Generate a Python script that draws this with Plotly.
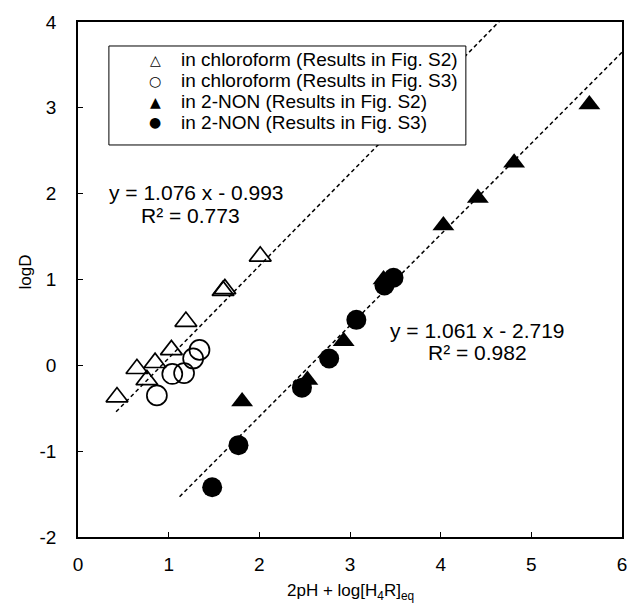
import plotly.graph_objects as go

# ---- data ----
chl_tri_x = [0.43, 0.65, 0.76, 0.85, 1.03, 1.19, 1.60, 1.62, 2.01]
chl_tri_y = [-0.37, -0.04, -0.17, 0.03, 0.18, 0.51, 0.87, 0.89, 1.27]

chl_circ_x = [0.87, 1.04, 1.17, 1.27, 1.34]
chl_circ_y = [-0.35, -0.10, -0.09, 0.08, 0.18]

non_tri_x = [1.81, 2.53, 2.93, 3.37, 4.03, 4.41, 4.81, 5.64]
non_tri_y = [-0.42, -0.17, 0.28, 1.00, 1.63, 1.95, 2.36, 3.04]

non_circ_x = [1.48, 1.77, 2.47, 2.77, 3.07, 3.38, 3.48]
non_circ_y = [-1.42, -0.93, -0.26, 0.08, 0.53, 0.93, 1.02]

fit_slope = [1.076, 1.061]
fit_intercept = [-0.993, -2.719]
fit_x_start = [0.42, 1.12]
fit_x_end = [4.70, 6.00]

series_names = [
    "in chloroform (Results in Fig. S2)",
    "in chloroform (Results in Fig. S3)",
    "in 2-NON (Results in Fig. S2)",
    "in 2-NON (Results in Fig. S3)",
]
legend_glyphs = ["△", "○", "▲", "●"]

eq_lines = ["y = 1.076 x - 0.993", "R² = 0.773", "y = 1.061 x - 2.719", "R² = 0.982"]
eq_x = [1.31, 1.24, 4.41, 4.41]
eq_y = [2.01, 1.74, 0.41, 0.145]

x_ticks = [0, 1, 2, 3, 4, 5, 6]
y_ticks = [-2, -1, 0, 1, 2, 3, 4]

FONT = "Liberation Sans, Arial, sans-serif"

fig = go.Figure()

# trend lines
for s, b, x0, x1 in zip(fit_slope, fit_intercept, fit_x_start, fit_x_end):
    fig.add_trace(go.Scatter(
        x=[x0, x1], y=[s * x0 + b, s * x1 + b], mode="lines",
        line=dict(color="black", width=1.5, dash="4px,3px"),
        showlegend=False, hoverinfo="skip"))

fig.add_trace(go.Scatter(
    x=chl_tri_x, y=chl_tri_y, mode="markers", name=series_names[0],
    marker=dict(symbol="triangle-up-open", size=19, color="black",
                line=dict(width=1.7, color="black"))))
fig.add_trace(go.Scatter(
    x=chl_circ_x, y=chl_circ_y, mode="markers", name=series_names[1],
    marker=dict(symbol="circle-open", size=20, color="black",
                line=dict(width=1.7, color="black"))))
fig.add_trace(go.Scatter(
    x=non_tri_x, y=non_tri_y, mode="markers", name=series_names[2],
    marker=dict(symbol="triangle-up", size=19, color="black",
                line=dict(width=0, color="black"))))
fig.add_trace(go.Scatter(
    x=non_circ_x, y=non_circ_y, mode="markers", name=series_names[3],
    marker=dict(symbol="circle", size=20, color="black",
                line=dict(width=0, color="black"))))

# trendline equations
for t, x, y in zip(eq_lines, eq_x, eq_y):
    fig.add_annotation(x=x, y=y, xref="x", yref="y", text=t, showarrow=False,
                       font=dict(family=FONT, size=21, color="black"),
                       xanchor="center", yanchor="middle")

# hand-built legend box (tighter rows than plotly's own legend)
leg_x0, leg_x1, leg_y0, leg_y1 = 0.0568, 0.713, 0.7612, 0.9534
leg_rows = [0.9263, 0.8863, 0.8453, 0.8053]
fig.add_shape(type="rect", xref="paper", yref="paper",
              x0=leg_x0, x1=leg_x1, y0=leg_y0, y1=leg_y1,
              line=dict(color="black", width=1), fillcolor="white", layer="above")
for g, name, ry in zip(legend_glyphs, series_names, leg_rows):
    fig.add_annotation(x=0.142, y=ry, xref="paper", yref="paper", text=g,
                       showarrow=False, xanchor="center", yanchor="middle",
                       font=dict(family="DejaVu Sans", size=14, color="black"))
    fig.add_annotation(x=0.185, y=ry, xref="paper", yref="paper", text=name,
                       showarrow=False, xanchor="left", yanchor="middle",
                       font=dict(family=FONT, size=19, color="black"))

# axis titles
fig.add_annotation(x=-0.096, y=0.515, xref="paper", yref="paper", text="logD",
                   textangle=-90, showarrow=False, xanchor="center", yanchor="middle",
                   font=dict(family=FONT, size=17, color="black"))
fig.add_annotation(x=0.5, y=-0.106, xref="paper", yref="paper",
                   text="2pH + log[H<sub>4</sub>R]<sub>eq</sub>",
                   showarrow=False, xanchor="center", yanchor="middle",
                   font=dict(family=FONT, size=17, color="black"))

axis_common = dict(
    showgrid=False, zeroline=False, showline=True, linecolor="black",
    linewidth=1.5, mirror=True, ticks="inside", ticklen=5, tickwidth=1.2,
    tickcolor="black", tickfont=dict(family=FONT, size=19, color="black"),
    automargin=False,
)

fig.update_layout(
    width=627, height=609,
    margin=dict(l=78, r=5, t=22, b=72),
    paper_bgcolor="white", plot_bgcolor="white",
    font=dict(family=FONT, size=19, color="black"),
    showlegend=False,
    xaxis=dict(range=[0, 6], tickvals=x_ticks, ticktext=[str(v) for v in x_ticks],
               ticklabelstandoff=9, ticklabeloverflow="allow", **axis_common),
    yaxis=dict(range=[-2, 4], tickvals=y_ticks, ticktext=[str(v) for v in y_ticks],
               ticklabelstandoff=16, ticklabeloverflow="allow", **axis_common),
)

fig.write_html("out.html",
               config={"displayModeBar": False},
               post_script="document.body.style.margin='0px';"
                           "document.body.style.overflow='hidden';")
